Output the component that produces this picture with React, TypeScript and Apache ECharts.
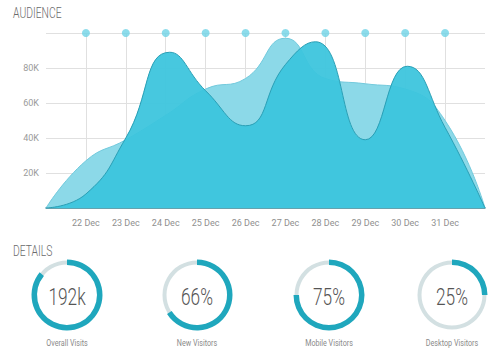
import React, { useEffect, useRef } from "react";
import * as echarts from "echarts";

// Days along x (21 Dec .. 32 = 1 Jan, edges unlabeled)
const xMinDay = 21;
const xMaxDay = 32;
const tickDays = [22, 23, 24, 25, 26, 27, 28, 29, 30, 31];
const tickLabels = ["22 Dec", "23 Dec", "24 Dec", "25 Dec", "26 Dec", "27 Dec", "28 Dec", "29 Dec", "30 Dec", "31 Dec"];
const yTicks = [0, 20, 40, 60, 80, 100];

// Audience series (thousands) as [day, value]
const lightSeries: [number, number][] = [
  [21, 0], [22, 27], [23, 39], [24, 53], [25, 68], [26, 74], [27, 97],
  [28, 74], [29, 71], [30, 68], [31, 50], [32, 0],
];
const darkSeries: [number, number][] = [
  [21, 0], [22, 8], [23, 40], [24.1, 89], [25, 67], [26, 47], [27, 82],
  [27.75, 95], [29, 39], [30.05, 81], [31, 46], [32, 0],
];
const topDotValue = 100;

// Details
const detailValues = ["192k", "66%", "75%", "25%"];
const detailLabels = ["Overall Visits", "New Visitors", "Mobile Visitors", "Desktop Visitors"];
const detailPercents = [86, 66, 75, 25];
const detailCentersX = [67, 197, 329, 452];

const FONT = "Roboto, 'DejaVu Sans Condensed', sans-serif";
const TEAL = "#1fa7bd";
const RING_BG = "#d3e0e2";

export default function App() {
  const ref = useRef<HTMLDivElement>(null);
  useEffect(() => {
    if (!ref.current) return;
    const chart = echarts.init(ref.current, null, { renderer: "svg" });
    const cy = 295;
    const pies: any[] = [];
    detailPercents.forEach((p, i) => {
      pies.push({
        type: "pie",
        silent: true,
        center: [detailCentersX[i], cy],
        radius: [30.5, 34.5],
        label: { show: false },
        labelLine: { show: false },
        data: [{ value: 100, itemStyle: { color: RING_BG } }],
      });
      pies.push({
        type: "pie",
        silent: true,
        center: [detailCentersX[i], cy],
        radius: [30, 35.5],
        startAngle: 90,
        clockwise: true,
        label: { show: false },
        labelLine: { show: false },
        data: [
          { value: p, itemStyle: { color: TEAL } },
          { value: 100 - p, itemStyle: { color: "rgba(0,0,0,0)" } },
        ],
      });
    });
    const texts: any[] = [
      { type: "text", x: 13, y: 13, scaleX: 0.74, style: { text: "AUDIENCE", fill: "#6a6a6a", font: `300 14px ${FONT}`, textVerticalAlign: "middle" } },
      { type: "text", x: 13, y: 251, scaleX: 0.74, style: { text: "DETAILS", fill: "#6a6a6a", font: `300 14px ${FONT}`, textVerticalAlign: "middle" } },
    ];
    detailValues.forEach((v, i) => {
      texts.push({
        type: "text",
        x: detailCentersX[i],
        y: cy + 2,
        scaleX: 0.72,
        style: { text: v, fill: "#555", font: `300 24px ${FONT}`, textAlign: "center", textVerticalAlign: "middle" },
      });
      texts.push({
        type: "text",
        x: detailCentersX[i],
        y: 343,
        scaleX: 0.8,
        style: { text: detailLabels[i], fill: "#8a8a8a", font: `9px ${FONT}`, textAlign: "center", textVerticalAlign: "middle" },
      });
    });

    chart.setOption({
      animation: false,
      grid: { left: 46, right: 15, top: 33, bottom: 152 },
      xAxis: {
        type: "value",
        min: xMinDay,
        max: xMaxDay,
        interval: 1,
        axisLine: { show: true, lineStyle: { color: "#3d8d9d", width: 1.5 } },
        axisTick: { show: false },
        splitLine: { show: false },
        axisLabel: {
          color: "#8f8f8f",
          fontSize: 9,
          fontFamily: FONT,
          margin: 10,
          formatter: (v: number) => {
            const idx = tickDays.indexOf(v);
            return idx >= 0 ? tickLabels[idx] : "";
          },
        },
      },
      yAxis: {
        type: "value",
        min: yTicks[0],
        max: yTicks[yTicks.length - 1],
        interval: 20,
        axisLine: { show: false },
        axisTick: { show: false },
        splitLine: { lineStyle: { color: "#e0e0e0", width: 1 } },
        axisLabel: {
          color: "#9a9a9a",
          fontSize: 9,
          fontFamily: FONT,
          margin: 7,
          formatter: (v: number) => (v === 0 || v === 100 ? "" : `${v}K`),
        },
      },
      graphic: texts,
      series: [
        {
          type: "line",
          data: lightSeries,
          smooth: 0.5,
          symbol: "none",
          silent: true,
          z: 2,
          lineStyle: { color: "#72c9dc", width: 1 },
          areaStyle: { color: "#8cd9e8", opacity: 1 },
          markLine: {
            silent: true,
            symbol: "none",
            label: { show: false },
            lineStyle: { color: "#e0e0e0", type: "solid", width: 1 },
            data: tickDays.map((d) => ({ xAxis: d })),
            z: 1,
          },
        },
        {
          type: "line",
          data: darkSeries,
          smooth: 0.5,
          symbol: "none",
          silent: true,
          z: 3,
          lineStyle: { color: "#2a9fb5", width: 1 },
          areaStyle: { color: "#3cc5dd", opacity: 0.94 },
        },
        {
          type: "scatter",
          data: tickDays.map((d) => [d, topDotValue]),
          symbolSize: 8,
          silent: true,
          z: 4,
          itemStyle: { color: "#6fd3e6" },
        },
        ...pies,
      ],
    });
    return () => chart.dispose();
  }, []);
  return <div ref={ref} style={{ position: "fixed", left: 0, top: 0, width: 500, height: 360, background: "#fff" }} />;
}
